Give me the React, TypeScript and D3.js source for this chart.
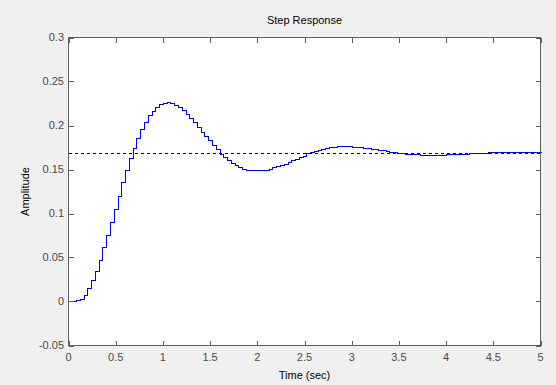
import React, { useEffect, useRef } from "react";
import * as d3 from "d3";

const width = 556;
const height = 385;

// sample time of the discrete step response
const Ts = 0.04;

// amplitude at every sample (t = 0, 0.04, ... 5)
const amplitude: number[] = [
  0, 0, 0.0013, 0.0027, 0.0075, 0.0157, 0.0248, 0.035, 0.0476, 0.0614,
  0.075, 0.0908, 0.1056, 0.1204, 0.1356, 0.1489, 0.1625, 0.175, 0.1853, 0.1955,
  0.2035, 0.2115, 0.2167, 0.2209, 0.224, 0.2253, 0.2263, 0.2253, 0.2235, 0.2211,
  0.2174, 0.2128, 0.2081, 0.2035, 0.1981, 0.1928, 0.1879, 0.183, 0.1777, 0.1728,
  0.1678, 0.1637, 0.1603, 0.157, 0.1546, 0.1525, 0.1511, 0.15, 0.1491, 0.1489,
  0.1489, 0.1491, 0.1496, 0.1511, 0.1523, 0.1538, 0.1553, 0.1568, 0.1583, 0.1603,
  0.1621, 0.164, 0.1659, 0.1682, 0.1694, 0.1708, 0.1723, 0.1735, 0.1746, 0.1757,
  0.1757, 0.1765, 0.1765, 0.1765, 0.1762, 0.1757, 0.1757, 0.1752, 0.1745, 0.1741,
  0.1733, 0.1728, 0.172, 0.1716, 0.1708, 0.1699, 0.1696, 0.1688, 0.1684, 0.1676,
  0.1674, 0.1672, 0.1671, 0.1665, 0.1664, 0.1664, 0.1664, 0.1664, 0.1664, 0.1664,
  0.1671, 0.1671, 0.1671, 0.1671, 0.1671, 0.1671, 0.1685, 0.1685, 0.1685, 0.1685,
  0.1685, 0.1697, 0.1697, 0.1697, 0.1697, 0.1697, 0.1697, 0.1697, 0.1697, 0.1697,
  0.1697, 0.1697, 0.1697, 0.1697, 0.1697, 0.1697,
];

// steady-state value (dashed line)
const finalValue = 0.1684;

const xTicks = [0, 0.5, 1, 1.5, 2, 2.5, 3, 3.5, 4, 4.5, 5];
const xTickLabels = ["0", "0.5", "1", "1.5", "2", "2.5", "3", "3.5", "4", "4.5", "5"];
const yTicks = [-0.05, 0, 0.05, 0.1, 0.15, 0.2, 0.25, 0.3];
const yTickLabels = ["-0.05", "0", "0.05", "0.1", "0.15", "0.2", "0.25", "0.3"];

const title = "Step Response";
const xLabel = "Time (sec)";
const yLabel = "Amplitude";

export default function App() {
  const ref = useRef<SVGSVGElement>(null);

  useEffect(() => {
    const svg = d3.select(ref.current);
    svg.selectAll("*").remove();

    const left = 68.5;
    const right = 540.5;
    const top = 37.5;
    const bottom = 345.5;

    const x = d3.scaleLinear().domain([0, 5]).range([left, right]);
    const y = d3.scaleLinear().domain([-0.05, 0.3]).range([bottom, top]);

    svg
      .attr("font-family", "'Liberation Sans', Arial, sans-serif")
      .attr("font-size", 11);

    // figure background
    svg.append("rect").attr("width", width).attr("height", height).attr("fill", "#f0f0f0");

    // axes area
    svg
      .append("rect")
      .attr("x", left)
      .attr("y", top)
      .attr("width", right - left)
      .attr("height", bottom - top)
      .attr("fill", "#ffffff");

    // steady-state dashed line
    const yf = Math.round(y(finalValue)) + 0.5;
    svg
      .append("line")
      .attr("x1", left)
      .attr("x2", right)
      .attr("y1", yf)
      .attr("y2", yf)
      .attr("stroke", "#000")
      .attr("stroke-width", 1)
      .attr("stroke-dasharray", "3.5,2.5")
      .attr("shape-rendering", "crispEdges");

    // stairs
    const pts = amplitude.map((v, i) => [i * Ts, v] as [number, number]);
    const line = d3
      .line<[number, number]>()
      .x((d) => Math.round(x(d[0])) + 0.5)
      .y((d) => Math.round(y(d[1])) + 0.5)
      .curve(d3.curveStepAfter);

    svg
      .append("path")
      .attr("d", line(pts))
      .attr("fill", "none")
      .attr("stroke", "#0000ff")
      .attr("stroke-width", 1.2)
      .attr("shape-rendering", "crispEdges");

    // axes box + ticks on every side
    const axisColor = "#5f5f5f";
    const tickLen = 5;
    const g = svg.append("g").attr("stroke", axisColor).attr("shape-rendering", "crispEdges");

    g.append("rect")
      .attr("x", left)
      .attr("y", top)
      .attr("width", right - left)
      .attr("height", bottom - top)
      .attr("fill", "none");

    xTicks.forEach((t) => {
      const px = Math.round(x(t)) + 0.5;
      g.append("line").attr("x1", px).attr("x2", px).attr("y1", bottom).attr("y2", bottom - tickLen);
      g.append("line").attr("x1", px).attr("x2", px).attr("y1", top).attr("y2", top + tickLen);
    });
    yTicks.forEach((t) => {
      const py = Math.round(y(t)) + 0.5;
      g.append("line").attr("x1", left).attr("x2", left + tickLen).attr("y1", py).attr("y2", py);
      g.append("line").attr("x1", right).attr("x2", right - tickLen).attr("y1", py).attr("y2", py);
    });

    // tick labels
    const labelColor = "#4a4a4a";
    svg
      .append("g")
      .selectAll("text")
      .data(xTicks)
      .join("text")
      .attr("x", (d) => x(d))
      .attr("y", bottom + 15)
      .attr("text-anchor", "middle")
      .attr("fill", labelColor)
      .text((d, i) => xTickLabels[i]);

    svg
      .append("g")
      .selectAll("text")
      .data(yTicks)
      .join("text")
      .attr("x", left - 4.5)
      .attr("y", (d) => y(d))
      .attr("dy", "0.35em")
      .attr("text-anchor", "end")
      .attr("fill", labelColor)
      .text((d, i) => yTickLabels[i]);

    // title and axis labels
    svg
      .append("text")
      .attr("x", (left + right) / 2)
      .attr("y", 24)
      .attr("text-anchor", "middle")
      .attr("fill", "#000")
      .text(title);

    svg
      .append("text")
      .attr("x", (left + right) / 2)
      .attr("y", 379)
      .attr("text-anchor", "middle")
      .attr("fill", "#000")
      .text(xLabel);

    svg
      .append("text")
      .attr("transform", `translate(29,${(top + bottom) / 2}) rotate(-90)`)
      .attr("text-anchor", "middle")
      .attr("fill", "#000")
      .text(yLabel);
  }, []);

  return (
    <svg
      ref={ref}
      width={width}
      height={height}
      style={{ position: "absolute", left: 0, top: 0, display: "block" }}
    />
  );
}
